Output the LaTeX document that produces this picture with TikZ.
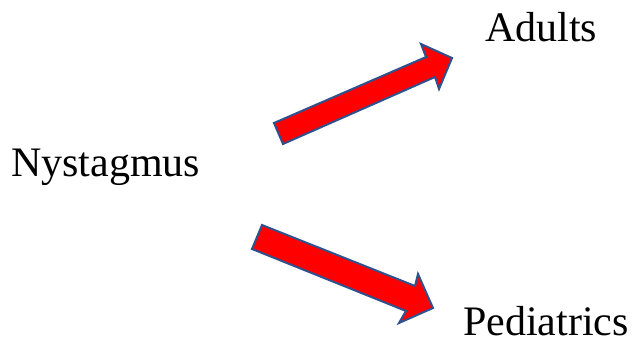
\documentclass[tikz,border=0pt]{standalone}
\usepackage{fontspec}
\setmainfont{Liberation Serif}
\definecolor{arrowred}{HTML}{FF0000}
\definecolor{arrowedge}{HTML}{2F528F}
\begin{document}
\begin{tikzpicture}[x=1pt,y=-1pt,
  label/.style={font=\fontsize{42}{48}\selectfont, inner sep=0pt, anchor=base west},
  blockarrow/.style={fill=arrowred, draw=arrowedge, line width=2pt, line join=miter}]
\useasboundingbox (0,0) rectangle (639,344);
\node[label] (nys) at (11,177) {Nystagmus};
\node[label] (adu) at (485,42) {Adults};
\node[label] (ped) at (463,335) {Pediatrics};
% upper arrow
\draw[blockarrow] (274,123) -- (426,57) -- (421,44) -- (452,58) -- (439,89) -- (435,77) -- (283,144) -- cycle;
% lower arrow
\draw[blockarrow] (262,225) -- (415,286) -- (418,274) -- (433,308) -- (399,323) -- (406,311) -- (252,249) -- cycle;
\end{tikzpicture}
\end{document}
